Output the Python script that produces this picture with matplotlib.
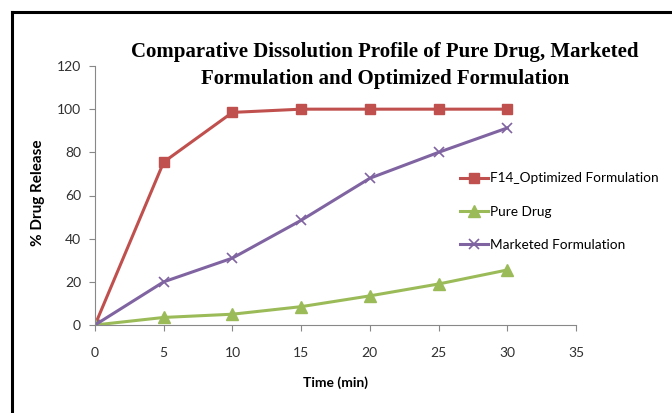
import numpy as np
import matplotlib
matplotlib.use('Agg')
import matplotlib.pyplot as plt
from matplotlib.lines import Line2D

time_min = [0, 5, 10, 15, 20, 25, 30]
f14_optimized = [0, 75.5, 98.5, 100, 100, 100, 100]
pure_drug = [0, 3.5, 5, 8.5, 13.5, 19, 25.5]
marketed = [0, 20, 31, 48.5, 68, 80, 91.3]

series_names = ['F14_Optimized Formulation', 'Pure Drug', 'Marketed Formulation']

W, H = 672, 413
fig = plt.figure(figsize=(W / 100, H / 100), dpi=100)
ax = fig.add_axes([95 / W, 1 - 325 / H, (576 - 95) / W, (325 - 66) / H])

ax.plot(time_min, f14_optimized, '-s', color='#C0504D', lw=2.2, ms=7, label=series_names[0])
ax.plot(time_min, pure_drug, '-^', color='#9BBB59', lw=2.2, ms=8, label=series_names[1])
ax.plot(time_min, marketed, '-x', color='#8064A2', lw=2.2, ms=7, mew=1.2, label=series_names[2])

ax.set_xlim(0, 35)
ax.set_ylim(0, 120)
ax.set_xticks(np.arange(0, 36, 5))
ax.set_yticks(np.arange(0, 121, 20))
for s in ['top', 'right']:
    ax.spines[s].set_visible(False)
for s in ['left', 'bottom']:
    ax.spines[s].set_color('#888888')
    ax.spines[s].set_linewidth(0.8)
ax.tick_params(direction='out', length=4, color='#888888', labelsize=10,
               labelcolor='#303030', pad=6)
for lab in ax.get_xticklabels() + ax.get_yticklabels():
    lab.set_family('Lato')
ax.tick_params(axis='x', pad=12)

ax.set_xlabel('Time (min)', fontsize=10, fontweight='bold', family='Lato', labelpad=12)
ax.set_ylabel('% Drug Release', fontsize=11, fontweight='bold', family='Lato')
ax.yaxis.set_label_coords(-0.104, 0.51)

fig.text(385 / W, 1 - 52 / H, 'Comparative Dissolution Profile of Pure Drug, Marketed',
         ha='center', va='center', fontsize=15, fontweight='bold', family='Liberation Serif')
fig.text(385 / W, 1 - 79 / H, 'Formulation and Optimized Formulation',
         ha='center', va='center', fontsize=15, fontweight='bold', family='Liberation Serif')

leg = ax.legend(loc='upper left', bbox_to_anchor=(455 / W, 1 - 167 / H),
                bbox_transform=fig.transFigure, frameon=False,
                prop={'family': 'Lato', 'size': 9.8}, handlelength=2.0,
                handletextpad=0.2, labelspacing=1.55, borderaxespad=0)

# outer black border (left and top only visible)
fig.add_artist(Line2D([12 / W, 12 / W], [0, 1 - 12 / H], color='black', lw=2.2,
                      transform=fig.transFigure))
fig.add_artist(Line2D([12 / W, 1], [1 - 12 / H, 1 - 12 / H], color='black', lw=2.2,
                      transform=fig.transFigure))

fig.savefig('out.png', dpi=100)
